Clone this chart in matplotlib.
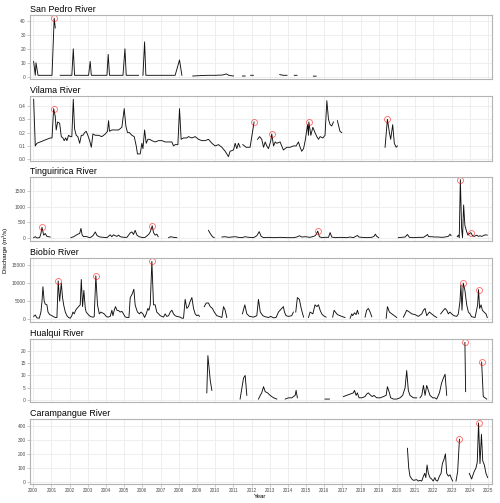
import numpy as np
import matplotlib
matplotlib.use("Agg")
import matplotlib.pyplot as plt

nan = np.nan

# ---------------- data ----------------
sanpedro_t = [2000.02, 2000.11, 2000.15, 2000.26, 2000.5, 2000.8, 2001.03, 2001.15, 2001.21, nan,
              2001.48, 2001.7, 2001.9, 2002.12, 2002.20, 2002.27, 2002.5, 2002.8, 2003.04, 2003.13, 2003.19,
              2003.5, 2003.8, 2004.05, 2004.12, 2004.19, 2004.4, 2004.7, 2004.93, 2005.04, 2005.11, 2005.4, 2005.79, nan,
              2006.03, 2006.12, 2006.19, 2006.5, 2007.0, 2007.5, 2007.80, 2008.04, 2008.17, nan,
              2008.77, 2009.2, 2009.6, 2010.0, 2010.4, 2010.62, 2010.75, 2011.01, nan,
              2011.50, 2011.65, nan, 2011.95, 2012.1, nan, 2013.55, 2013.75, 2013.95, nan,
              2014.35, 2014.5, nan, 2015.4, 2015.55]
sanpedro_q = [11, 1, 10, 1, 1, 1, 1, 42, 35, nan,
              1, 1, 1, 1, 20, 1, 1, 1, 1, 11, 1,
              1, 1, 1, 16, 1, 1, 1, 1, 20, 1, 1, 1, nan,
              1, 25, 1, 1, 1, 1, 1, 12, 1, nan,
              0.5, 0.8, 1, 1, 1.2, 2, 1, 0.5, nan,
              0.5, 0.5, nan, 1, 1, nan, 1.5, 1, 1, nan,
              1, 1, nan, 0.4, 0.4]
sanpedro_peak_t = [2001.15]
sanpedro_peak_q = [42]

vilama_t = [2000.02, 2000.11, 2000.20, 2000.38, 2000.57, 2000.75, 2000.93, 2001.03, 2001.12, 2001.21, 2001.26,
            2001.34, 2001.45, 2001.54, 2001.63, 2001.70, 2001.78, 2001.85, 2001.94, 2002.03, 2002.12, 2002.20,
            2002.27, 2002.36, 2002.45, 2002.55, 2002.64, 2002.73, 2002.82, 2002.91, 2003.00, 2003.10, 2003.19,
            2003.28, 2003.41, 2003.59, 2003.77, 2003.96, 2004.08, 2004.14, 2004.19, 2004.32, 2004.51, 2004.69,
            2004.87, 2005.00, 2005.09, 2005.18, 2005.29, 2005.42, 2005.55, 2005.66, 2005.73, 2005.88, 2005.97,
            2006.03, 2006.12, 2006.21, 2006.30, 2006.39, 2006.52, 2006.70, 2006.89, 2007.07, 2007.25, 2007.44,
            2007.62, 2007.71, 2007.80, 2007.95, 2008.04, 2008.13, 2008.26, 2008.44, 2008.53, 2008.72, 2008.90,
            2009.08, 2009.27, 2009.45, 2009.63, 2009.82, 2010.00, 2010.18, 2010.37, 2010.55, 2010.73, 2010.82,
            2011.01, 2011.10, 2011.19, 2011.28, 2011.37, nan,
            2011.52, 2011.7, 2011.92, 2012.14, nan,
            2012.33, 2012.44, 2012.56, 2012.66, 2012.75, 2012.84, 2012.93, 2013.06, 2013.11, 2013.21, 2013.30,
            2013.39, 2013.57, 2013.66, 2013.75, 2013.94, 2014.12, 2014.30, 2014.45, 2014.58, 2014.67, 2014.76,
            2014.86, 2014.95, 2015.08, 2015.13, 2015.15, 2015.26, 2015.37, 2015.49, 2015.59, 2015.68, 2015.77,
            2015.92, 2016.04, 2016.14, 2016.23, 2016.32, 2016.41, 2016.50, nan,
            2016.72, 2016.86, 2016.96, nan,
            2019.34, 2019.47, 2019.58, 2019.65, 2019.76, 2019.85, 2019.95, 2020.02]
vilama_q = [0.45, 0.10, 0.12, 0.13, 0.14, 0.15, 0.16, 0.16, 0.38, 0.32, 0.22,
            0.28, 0.27, 0.17, 0.16, 0.14, 0.16, 0.14, 0.18, 0.17, 0.17, 0.45,
            0.23, 0.18, 0.17, 0.12, 0.18, 0.18, 0.20, 0.21, 0.18, 0.14, 0.09,
            0.19, 0.18, 0.18, 0.17, 0.19, 0.21, 0.29, 0.21, 0.22, 0.22, 0.22,
            0.24, 0.38, 0.25, 0.20, 0.20, 0.18, 0.17, 0.10, 0.04, 0.04, 0.12,
            0.08, 0.22, 0.12, 0.15, 0.15, 0.14, 0.13, 0.14, 0.14, 0.13, 0.13,
            0.13, 0.10, 0.11, 0.11, 0.38, 0.15, 0.16, 0.16, 0.17, 0.16, 0.17,
            0.15, 0.14, 0.14, 0.15, 0.12, 0.10, 0.11, 0.09, 0.06, 0.02, 0.06,
            0.07, 0.12, 0.08, 0.12, 0.09, nan,
            0.11, 0.09, 0.09, 0.28, nan,
            0.15, 0.17, 0.15, 0.09, 0.13, 0.10, 0.08, 0.14, 0.19, 0.10, 0.13,
            0.12, 0.13, 0.10, 0.07, 0.09, 0.09, 0.10, 0.10, 0.13, 0.09, 0.06,
            0.08, 0.14, 0.26, 0.18, 0.28, 0.18, 0.24, 0.20, 0.17, 0.15, 0.17,
            0.16, 0.18, 0.44, 0.30, 0.26, 0.25, 0.28, nan,
            0.29, 0.21, 0.20, nan,
            0.09, 0.30, 0.20, 0.15, 0.26, 0.12, 0.09, 0.10]
vilama_peak_t = [2001.12, 2012.14, 2013.11, 2015.15, 2019.47]
vilama_peak_q = [0.38, 0.28, 0.19, 0.28, 0.30]

tingui_t = [2000.02, 2000.11, 2000.20, 2000.35, 2000.42, 2000.48, 2000.57, 2000.66, 2000.75, 2000.84, 2000.93, nan,
            2002.07, 2002.22, 2002.36, 2002.45, 2002.55, 2002.62, 2002.69, 2002.77, 2002.86, 2002.95, 2003.04,
            2003.13, 2003.28, 2003.41, 2003.50, 2003.59, 2003.68, 2003.86, 2004.05, 2004.23, 2004.32, 2004.41,
            2004.51, 2004.60, 2004.69, 2004.78, 2004.87, 2005.00, 2005.15, 2005.33, 2005.42, 2005.51, 2005.60,
            2005.70, 2005.79, 2005.88, 2006.03, 2006.15, 2006.34, 2006.43, 2006.54, 2006.61, 2006.70, 2006.79,
            2006.87, nan,
            2007.44, 2007.56, 2007.71, 2007.89, nan,
            2009.63, 2009.73, 2009.85, 2009.95, nan,
            2010.37, 2010.55, 2010.73, 2010.92, 2011.10, 2011.28, 2011.47, 2011.65, 2011.83, 2011.92, 2012.11,
            2012.29, 2012.42, 2012.53, 2012.66, 2012.93, 2013.21, 2013.57, 2013.94, 2014.30, 2014.49, 2014.63,
            2014.76, 2014.95, 2015.22, 2015.46, 2015.53, 2015.64, 2015.73, 2015.86, 2016.04, 2016.23, 2016.32,
            2016.41, 2016.59, 2016.86, 2017.23, 2017.42, 2017.60, 2017.82, 2017.90, 2018.06, 2018.33, 2018.61,
            2018.73, 2018.81, 2018.88, 2018.99, nan,
            2020.07, 2020.26, 2020.44, 2020.57, 2020.68, 2020.90, 2021.17, 2021.45, 2021.59, 2021.67, 2021.74,
            2021.90, 2022.08, 2022.27, 2022.45, 2022.64, 2022.82, 2022.91, 2022.97, nan,
            2023.31, 2023.37, 2023.42, 2023.48, 2023.55, 2023.60, 2023.66, 2023.73, 2023.83, 2023.90, 2023.97,
            2024.06, 2024.15, 2024.25, 2024.38, 2024.47, 2024.56, 2024.65, 2024.74, 2024.84, 2024.96]
tingui_q = [20, 50, 10, 20, 150, 345, 100, 150, 60, 50, 40, nan,
            20, 50, 100, 130, 150, 310, 100, 50, 60, 50, 30,
            20, 80, 200, 90, 60, 40, 30, 20, 110, 50, 110,
            80, 60, 100, 50, 40, 30, 30, 170, 200, 120, 250,
            100, 60, 40, 20, 30, 120, 200, 395, 180, 100, 130,
            50, nan,
            20, 50, 30, 20, nan,
            250, 150, 50, 20, nan,
            40, 50, 30, 40, 50, 30, 20, 50, 30, 30, 20,
            80, 210, 60, 20, 30, 20, 30, 20, 20, 40, 80,
            40, 50, 30, 70, 100, 225, 50, 20, 30, 30, 180,
            40, 20, 30, 20, 40, 20, 90, 40, 30, 20, 30,
            60, 130, 60, 20, nan,
            20, 30, 40, 120, 30, 20, 30, 30, 80, 120, 50,
            50, 40, 40, 30, 40, 60, 130, 80, nan,
            50, 100, 20, 1850, 300, 20, 1050, 400, 200, 100, 150,
            175, 80, 60, 100, 60, 80, 60, 80, 110, 100]
tingui_peak_t = [2000.48, 2006.54, 2015.64, 2023.48, 2024.06]
tingui_peak_q = [345, 395, 225, 1850, 175]

biobio_t = [2000.02, 2000.11, 2000.20, 2000.33, 2000.42, 2000.48, 2000.53, 2000.60, 2000.66, 2000.75, 2000.81,
            2000.90, 2001.03, 2001.12, 2001.21, 2001.30, 2001.37, 2001.45, 2001.54, 2001.61, 2001.67, 2001.76,
            2001.85, 2001.94, 2002.03, 2002.12, 2002.18, 2002.25, 2002.33, 2002.40, 2002.49, 2002.58, 2002.64,
            2002.71, 2002.78, 2002.86, 2002.91, 2002.99, 2003.08, 2003.17, 2003.28, 2003.35, 2003.44, 2003.53,
            2003.63, 2003.72, 2003.79, 2003.90, 2004.01, 2004.10, 2004.23, 2004.32, 2004.38, 2004.45, 2004.52,
            2004.60, 2004.69, 2004.78, 2004.87, 2004.96, 2005.05, 2005.15, 2005.26, 2005.33, 2005.44, 2005.53,
            2005.60, 2005.66, 2005.73, 2005.84, 2005.92, 2006.03, 2006.12, 2006.21, 2006.30, 2006.36, 2006.43,
            2006.52, 2006.61, 2006.70, 2006.79, 2006.89, 2006.98, 2007.07, 2007.16, 2007.25, 2007.34, 2007.44,
            2007.53, 2007.62, 2007.71, 2007.80, 2007.89, 2008.08, 2008.17, 2008.26, 2008.35, 2008.44, 2008.53,
            2008.63, 2008.72, 2008.81, 2008.90, 2008.99, 2009.08, 2009.14, nan,
            2009.40, 2009.51, 2009.63, 2009.73, 2009.85, 2009.95, 2010.09, 2010.27, 2010.37, 2010.46, 2010.55,
            2010.64, nan,
            2011.50, 2011.63, 2011.74, 2011.89, 2012.11, 2012.29, 2012.38, 2012.48, 2012.62, 2012.75, 2012.93,
            2013.06, 2013.21, 2013.35, 2013.48, 2013.57, 2013.66, 2013.75, 2013.81, 2013.90, 2014.03, 2014.21,
            2014.30, nan,
            2014.43, 2014.52, 2014.63, 2014.73, 2014.86, nan,
            2015.13, 2015.22, 2015.37, 2015.49, 2015.59, 2015.68, 2015.77, 2015.86, 2015.95, 2016.10, nan,
            2016.46, 2016.54, 2016.61, 2016.72, 2016.86, 2017.01, 2017.14, nan,
            2017.42, 2017.51, 2017.56, 2017.66, 2017.75, 2017.82, 2017.88, nan,
            2018.24, 2018.33, 2018.42, 2018.52, 2018.61, nan,
            2019.40, 2019.47, 2019.58, 2019.71, 2019.84, 2019.98, nan,
            2020.35, 2020.44, 2020.53, 2020.68, 2020.81, 2020.99, 2021.17, 2021.36, 2021.45, 2021.54, 2021.63,
            2021.78, 2021.90, 2022.08, 2022.18, nan,
            2022.40, 2022.55, 2022.64, 2022.73, 2022.82, 2022.91, 2023.00, 2023.13, 2023.28, 2023.37, 2023.46,
            2023.51, 2023.57, 2023.64, 2023.73, 2023.83, 2023.92, 2024.01, 2024.10, 2024.20, 2024.29, 2024.43,
            2024.48, 2024.54, 2024.62, 2024.69, 2024.78, 2024.89, 2024.96]
biobio_q = [800, 1200, 400, 300, 2000, 5000, 9000, 5000, 4200, 4000, 2000,
            1300, 1000, 700, 500, 500, 10600, 5000, 10000, 6000, 4000, 2000,
            1000, 500, 300, 1000, 2000, 1500, 2500, 3000, 3500, 4000, 11000,
            3500, 8000, 3000, 2000, 1500, 1000, 700, 600, 700, 12000, 4000,
            1500, 2000, 1800, 1500, 800, 600, 800, 2500, 1000, 2500, 3500,
            2500, 2400, 2000, 2200, 1500, 700, 500, 500, 6000, 7000, 8300,
            4000, 3000, 2000, 1500, 2000, 1500, 500, 1500, 3000, 2500, 4000,
            16000, 4000, 4000, 2000, 1500, 1000, 800, 600, 1500, 800, 1000,
            2000, 2500, 1500, 1000, 800, 600, 300, 300, 5500, 3000, 3500,
            5000, 6000, 3000, 1500, 1000, 1200, 800, nan,
            3500, 4500, 4500, 3500, 3000, 2000, 1000, 700, 500, 3500, 2500,
            500, nan,
            1500, 4000, 1500, 800, 600, 1000, 5500, 2000, 1000, 700, 500,
            800, 400, 500, 2000, 2500, 3000, 3500, 2000, 1000, 800, 1000,
            2000, nan,
            2000, 6000, 5500, 3000, 600, nan,
            500, 2000, 1500, 4000, 3500, 4000, 2500, 1500, 1000, 600, nan,
            600, 2500, 2000, 1300, 1000, 700, 500, nan,
            300, 1500, 1000, 1800, 1300, 2500, 1500, nan,
            600, 2500, 3000, 2000, 700, nan,
            300, 3500, 2000, 1500, 1000, 500, nan,
            600, 1500, 2500, 2000, 1500, 1300, 800, 1500, 2500, 3000, 1000,
            2000, 1500, 800, 500, nan,
            1500, 2500, 3000, 2500, 1500, 2000, 1500, 1000, 800, 1500, 5000,
            9500, 2500, 10000, 8000, 4000, 2000, 1500, 700, 600, 500, 4000,
            8200, 3000, 4000, 2500, 2000, 1500, 500]
biobio_peak_t = [2001.37, 2003.44, 2006.52, 2023.64, 2024.48]
biobio_peak_q = [10600, 12000, 16000, 10000, 8200]

hualqui_t = [2009.54, 2009.60, 2009.73, 2009.82, nan,
             2011.37, 2011.47, 2011.56, 2011.65, 2011.74, nan,
             2012.38, 2012.48, 2012.56, 2012.66, 2012.75, 2012.88, 2013.02, 2013.21, 2013.39, nan,
             2013.85, 2014.03, 2014.21, 2014.40, 2014.45, 2014.52, nan,
             2016.04, 2016.28, nan,
             2017.05, 2017.23, 2017.42, 2017.60, 2017.66, 2017.75, 2017.82, 2017.91, 2018.06, 2018.24, 2018.33,
             2018.42, 2018.55, 2018.64, 2018.73, 2018.88, 2019.07, 2019.25, 2019.40, 2019.47, 2019.58, 2019.65,
             2019.80, 2019.98, 2020.16, 2020.31, 2020.44, 2020.53, 2020.62, 2020.71, 2020.90, 2021.08, nan,
             2021.26, 2021.36, 2021.45, 2021.54, 2021.63, 2021.72, 2021.81, 2021.96, 2022.08, 2022.18, 2022.33,
             2022.45, 2022.55, 2022.64, 2022.73, nan,
             2023.73, 2023.77, nan,
             2024.65, 2024.74, 2024.84, 2024.93]
hualqui_q = [3, 18, 8, 4, nan,
             0.5, 5, 9, 10, 2, nan,
             0.5, 2, 3, 5.5, 3.5, 3, 2, 1, 0.5, nan,
             0.5, 1, 1, 2, 4, 1, nan,
             0.5, 0.5, nan,
             1.5, 2, 2.5, 3, 4, 2, 3, 1, 1, 1.5, 2.5,
             3, 2, 1.5, 2, 1, 1, 1.5, 2, 5.5, 3, 1,
             0.5, 0.5, 1, 2, 5, 12, 4, 2, 1, 1, nan,
             1, 2, 6, 2, 6, 4, 2, 1, 1, 0.5, 3,
             7, 9, 10.5, 2, nan,
             23.3, 3.5, nan,
             15.4, 1.5, 1, 0.5]
hualqui_peak_t = [2023.73, 2024.65]
hualqui_peak_q = [23.3, 15.4]

caramp_t = [2020.57, 2020.64, 2020.71, 2020.81, 2020.90, 2021.08, 2021.17, 2021.26, 2021.36, 2021.45, 2021.52,
            2021.58, 2021.65, 2021.72, 2021.81, 2021.90, 2021.99, 2022.08, 2022.14, 2022.23, 2022.33, 2022.42,
            2022.49, 2022.58, 2022.66, 2022.73, 2022.82, 2022.91, 2023.00, 2023.06, nan,
            2023.24, 2023.33, 2023.43, nan,
            2023.97, 2024.10, 2024.23, 2024.34, 2024.41, 2024.48, 2024.56, 2024.64, 2024.71, 2024.80, 2024.89,
            2024.98]
caramp_q = [240, 100, 40, 20, 10, 15, 5, 10, 5, 40, 60,
            30, 120, 60, 30, 20, 5, 30, 10, 5, 40, 60,
            130, 160, 200, 60, 40, 50, 20, 5, nan,
            5, 70, 305, nan,
            60, 20, 70, 100, 140, 422, 130, 340, 150, 120, 60,
            30]
caramp_peak_t = [2023.43, 2024.48]
caramp_peak_q = [305, 422]

rivers = ["San Pedro River", "Vilama River", "Tinguiririca River",
          "Biobío River", "Hualqui River", "Carampangue River"]
series_t = [sanpedro_t, vilama_t, tingui_t, biobio_t, hualqui_t, caramp_t]
series_q = [sanpedro_q, vilama_q, tingui_q, biobio_q, hualqui_q, caramp_q]
peaks_t = [sanpedro_peak_t, vilama_peak_t, tingui_peak_t, biobio_peak_t, hualqui_peak_t, caramp_peak_t]
peaks_q = [sanpedro_peak_q, vilama_peak_q, tingui_peak_q, biobio_peak_q, hualqui_peak_q, caramp_peak_q]
yticks = [[0, 10, 20, 30, 40], [0.0, 0.1, 0.2, 0.3, 0.4], [0, 500, 1000, 1500],
          [0, 5000, 10000, 15000], [0, 5, 10, 15, 20], [0, 100, 200, 300, 400]]
yticklabels = [["0", "10", "20", "30", "40"], ["0.0", "0.1", "0.2", "0.3", "0.4"],
               ["0", "500", "1000", "1500"], ["0", "5000", "10000", "15000"],
               ["0", "5", "10", "15", "20"], ["0", "100", "200", "300", "400"]]
years = list(range(2000, 2026))

# ---------------- layout ----------------
plt.rcParams['font.family'] = ['Liberation Sans', 'DejaVu Sans']
W, H = 500, 503
fig = plt.figure(figsize=(W / 100, H / 100), dpi=100)

panel_px = [(15, 79), (96, 161), (177.3, 240.7), (258.3, 321.7), (339, 402.3), (419.3, 483.7)]
ylims = [(-1.65, 44.3), (-0.013, 0.475), (-76, 1922), (-663, 16850), (-0.8, 24.7), (-14, 448)]
left_px, right_px = 30, 492

grid_c = "#EBEBEB"
border_c = "#B3B3B3"
tick_c = "#4D4D4D"

for i, name in enumerate(rivers):
    top, bot = panel_px[i]
    ax = fig.add_axes([left_px / W, 1 - bot / H, (right_px - left_px) / W, (bot - top) / H])
    ax.plot(series_t[i], series_q[i], color="#111111", lw=0.65, solid_joinstyle="round")
    ax.plot(peaks_t[i], peaks_q[i], linestyle="none", marker="o", markersize=4.3,
            markerfacecolor="none", markeredgecolor=(1, 0, 0, 0.6), markeredgewidth=0.6)
    ax.set_xlim(1999.82, 2025.22)
    ax.set_ylim(*ylims[i])
    ax.set_xticks(years)
    ax.set_yticks(yticks[i])
    ax.set_yticklabels(yticklabels[i])
    ax.grid(True, color=grid_c, lw=0.6)
    ax.set_axisbelow(True)
    for s in ax.spines.values():
        s.set_color(border_c)
        s.set_linewidth(0.8)
    ax.tick_params(axis="both", length=2, width=0.5, color=border_c,
                   labelcolor=tick_c, pad=1)
    ax.tick_params(axis="y", labelsize=3.5)
    ax.tick_params(axis="x", labelsize=3.3)
    if i < len(rivers) - 1:
        ax.tick_params(axis="x", length=0, labelbottom=False)
    else:
        ax.set_xticklabels([str(y) for y in years])
    ax.set_title(name, loc="left", fontsize=6.4, pad=2.5, color="black")

fig.text(260 / W, 1 - 497 / H, "Year", ha="center", va="center", fontsize=4.4, color="black")
fig.text(5 / W, 1 - 250 / H, "Discharge (m³/s)", ha="center", va="center", rotation=90,
         fontsize=4.4, color="black")

fig.savefig("out.png", dpi=100, facecolor="white")
